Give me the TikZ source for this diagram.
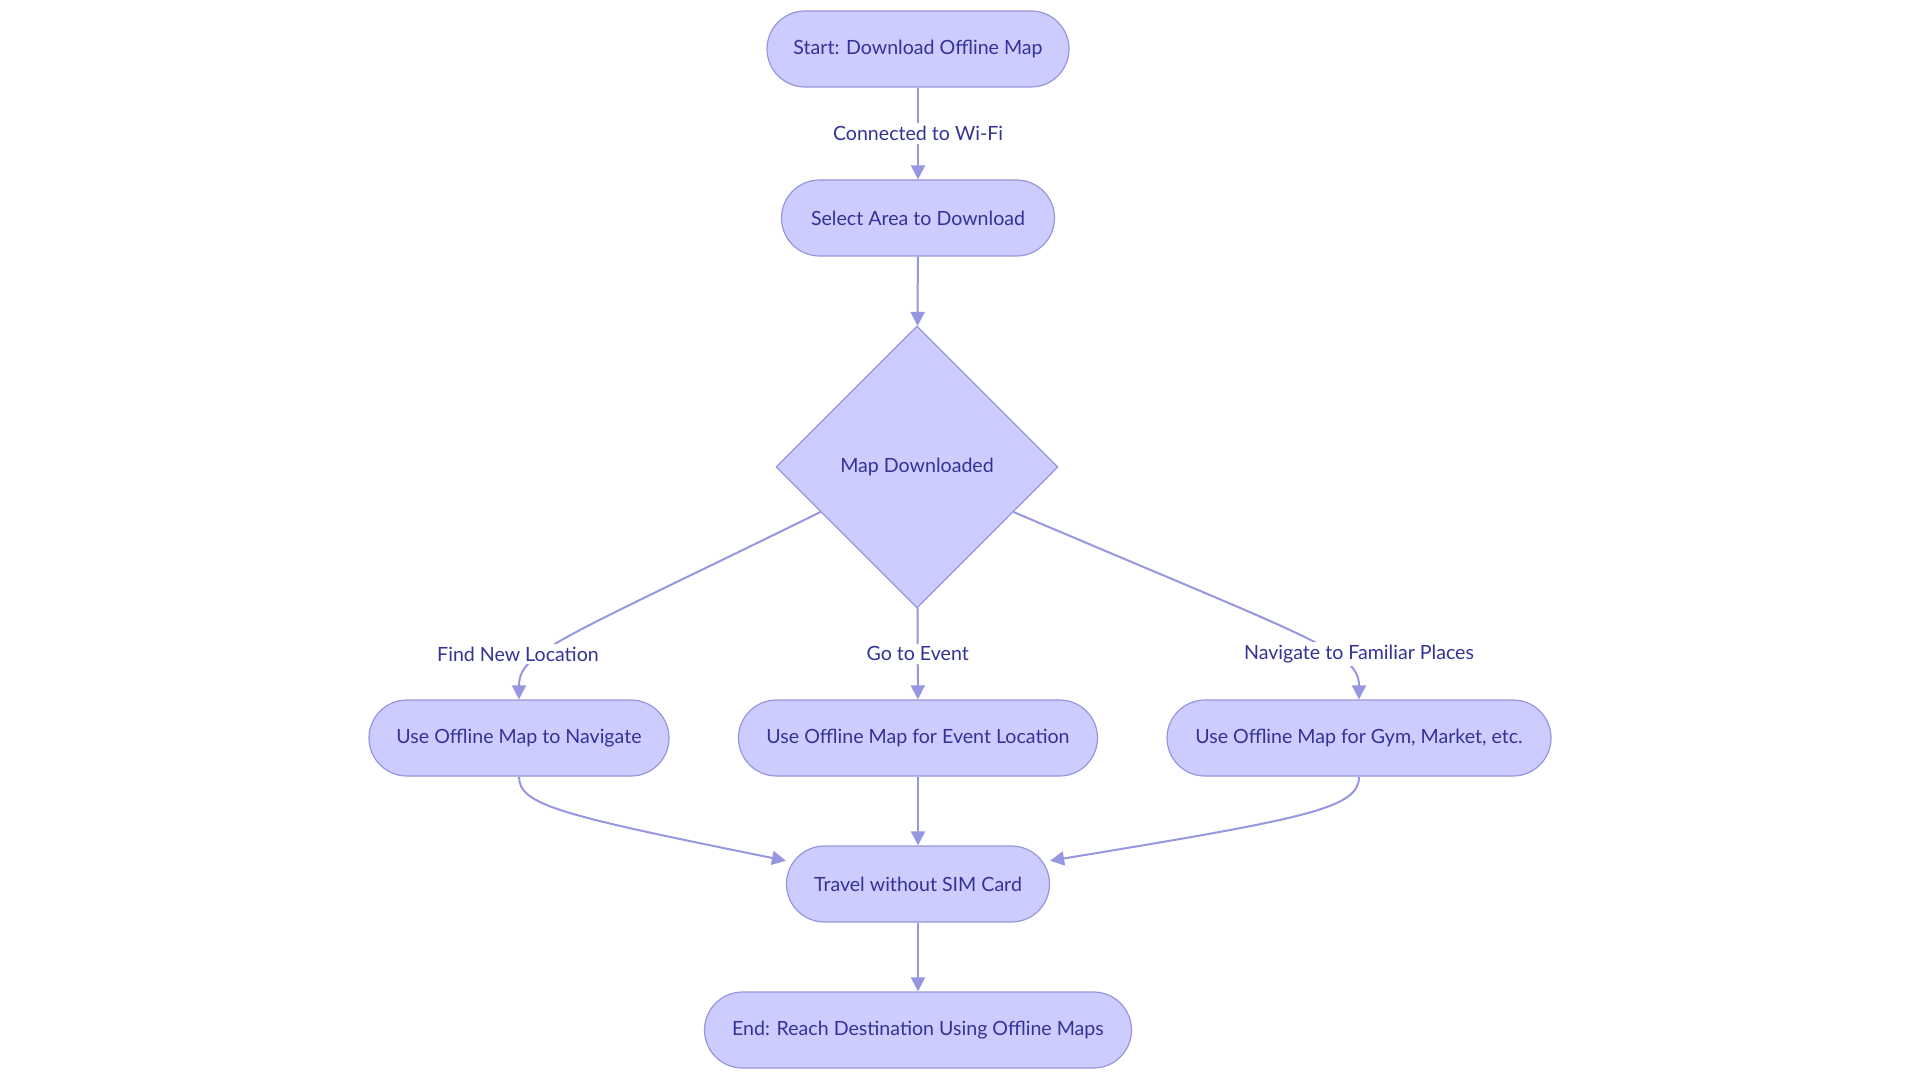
\documentclass[tikz,border=0pt]{standalone}
\usepackage{fontspec}
\setmainfont{Lato}
\usetikzlibrary{arrows.meta,shapes.geometric}
\definecolor{boxfill}{RGB}{204,204,255}
\definecolor{boxline}{RGB}{150,150,220}
\definecolor{flowline}{RGB}{150,150,225}
\definecolor{boxtext}{RGB}{51,51,150}
\tikzset{>={Triangle[width=7pt,length=7pt]}}

\begin{document}
\begin{tikzpicture}[x=0.5pt,y=-0.5pt,
    every node/.style={font=\fontsize{9.8}{12}\selectfont,text=boxtext},
    pill/.style={draw=boxline,fill=boxfill,line width=0.6pt,rounded corners=19pt,
                 minimum height=38pt,inner xsep=0pt},
    choice/.style={draw=boxline,fill=boxfill,line width=0.6pt,diamond,
                   minimum width=141pt,minimum height=141pt,inner sep=0pt},
    flow/.style={->,draw=flowline,line width=1pt},
    tag/.style={fill=white,inner sep=1.5pt}]
  % frame
  \useasboundingbox (0,0) rectangle (1920,1080);

  % boxes
  \node[pill,minimum width=151pt] (start) at (918,49) {Start: Download Offline Map};
  \node[pill,minimum width=136.5pt] (select) at (918,218) {Select Area to Download};
  \node[choice] (dm) at (917,467) {Map Downloaded};
  \node[pill,minimum width=150pt] (nav) at (519,738) {Use Offline Map to Navigate};
  \node[pill,minimum width=179.5pt] (event) at (918,738) {Use Offline Map for Event Location};
  \node[pill,minimum width=192pt] (gym) at (1359,738) {Use Offline Map for Gym, Market, etc.};
  \node[pill,minimum width=131.5pt] (travel) at (918,884) {Travel without SIM Card};
  \node[pill,minimum width=213.5pt] (end) at (918,1030) {End: Reach Destination Using Offline Maps};

  % connectors
  \draw[flow] (start) -- (select) node[tag,midway] {Connected to Wi-Fi};
  \draw[flow] (select) -- (dm);
  \draw[flow] (dm.205) .. controls (560,640) and (519,652) .. (nav.north);
  \draw[flow] (dm) -- (event) node[tag,midway] {Go to Event};
  \draw[flow] (dm.-25) .. controls (1314,640) and (1359,652) .. (gym.north);
  \draw[flow] (nav.south) .. controls (519,805) and (560,815) .. (travel.170);
  \draw[flow] (event) -- (travel);
  \draw[flow] (gym.south) .. controls (1359,808) and (1310,818) .. (travel.10);
  \draw[flow] (travel) -- (end);

  % labels on the side branches
  \node[tag] (findlbl) at (518,654) {Find New Location};
  \node[tag] (placelbl) at (1359,654) {Navigate to Familiar Places};
\end{tikzpicture}
\end{document}
